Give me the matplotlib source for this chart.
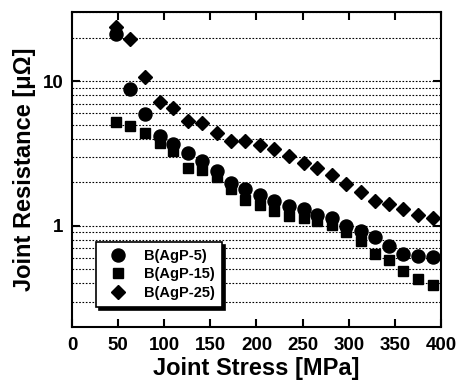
import matplotlib
matplotlib.use("Agg")
import matplotlib.pyplot as plt

plt.rcParams['font.family'] = ['Liberation Sans', 'DejaVu Sans']
plt.rcParams['font.weight'] = 'bold'

# joint stress [MPa], same for all three series
stress = [48, 63, 79, 95, 110, 126, 141, 157, 172, 188, 204, 219,
          235, 251, 266, 282, 297, 313, 328, 344, 359, 375, 391]

r_agp5 = [21.2, 8.8, 5.9, 4.2, 3.7, 3.2, 2.8, 2.4, 1.97, 1.79, 1.63, 1.49,
          1.38, 1.30, 1.19, 1.14, 0.99, 0.92, 0.84, 0.72, 0.64, 0.62, 0.61]
r_agp15 = [5.2, 4.9, 4.4, 3.75, 3.3, 2.52, 2.42, 2.16, 1.8, 1.5, 1.39, 1.27,
           1.17, 1.13, 1.08, 1.02, 0.90, 0.78, 0.64, 0.58, 0.49, 0.43, 0.39]
r_agp25 = [23.8, 19.6, 10.7, 7.2, 6.5, 5.26, 5.13, 4.38, 3.84, 3.84, 3.6, 3.37,
           3.06, 2.73, 2.5, 2.24, 1.95, 1.72, 1.49, 1.42, 1.31, 1.19, 1.13]

labels = ["B(AgP-5)", "B(AgP-15)", "B(AgP-25)"]
xticks = [0, 50, 100, 150, 200, 250, 300, 350, 400]

fig = plt.figure(figsize=(4.6, 3.85), dpi=100)
ax = fig.add_axes([0.1565, 0.1506, 0.8022, 0.8182])

ax.plot(stress, r_agp5, 'o', color='black', markersize=9.4, label=labels[0], zorder=3)
ax.plot(stress, r_agp15, 's', color='black', markersize=7.4, label=labels[1], zorder=3)
ax.plot(stress, r_agp25, 'D', color='black', markersize=6.8, label=labels[2], zorder=3)

ax.set_yscale('log')
ax.set_xlim(0, 400)
ax.set_ylim(0.2, 30)
ax.set_xticks(xticks)
ax.set_xticklabels([str(t) for t in xticks])
ax.set_yticks([1, 10])
ax.set_yticklabels(['1', '10'])
ax.yaxis.set_minor_formatter(matplotlib.ticker.NullFormatter())

ax.grid(True, which='both', axis='y', linestyle=(0, (1.5, 1.5)), color='black', linewidth=0.8)
ax.tick_params(which='major', direction='in', length=6, width=1.5, top=True, right=True,
               labelsize=13.5)
ax.tick_params(axis='x', pad=7)
ax.tick_params(axis='y', pad=6)
ax.tick_params(which='minor', length=0)
for sp in ax.spines.values():
    sp.set_linewidth(1.5)

ax.set_xlabel("Joint Stress [MPa]", fontsize=17, fontweight='bold', labelpad=2)
ax.set_ylabel("Joint Resistance [μΩ]", fontsize=17, fontweight='bold', labelpad=5)

leg = ax.legend(loc='lower left', bbox_to_anchor=(0.045, 0.04), fancybox=False,
                edgecolor='black', framealpha=1, fontsize=10.5,
                shadow={'color': 'black', 'alpha': 1}, handletextpad=0.8,
                borderpad=0.5, labelspacing=0.3)
leg.get_frame().set_linewidth(1.2)

fig.savefig("out.png", dpi=100)
